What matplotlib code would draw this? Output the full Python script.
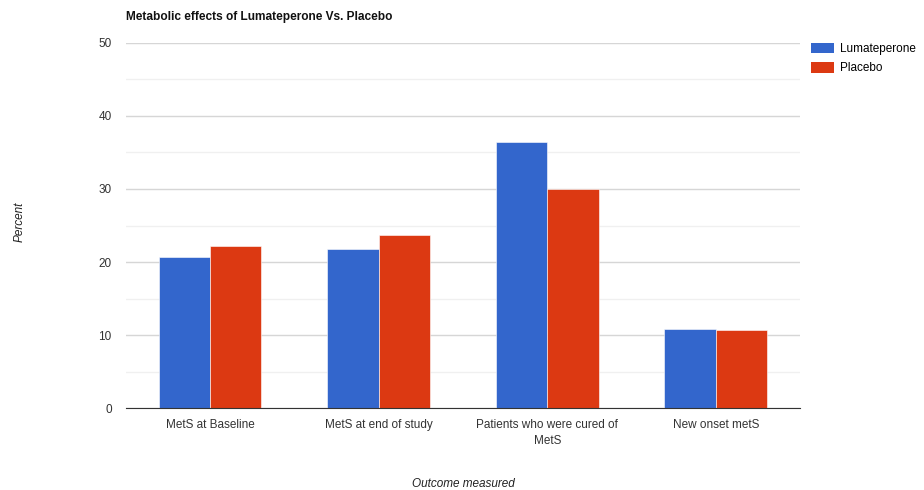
import matplotlib
matplotlib.use('Agg')
import matplotlib.pyplot as plt
import numpy as np
from matplotlib.patches import Patch

plt.rcParams['font.family'] = ['Liberation Sans', 'DejaVu Sans']

categories = ['MetS at Baseline', 'MetS at end of study',
              'Patients who were cured of\nMetS', 'New onset metS']
lumateperone = [20.7, 21.8, 36.4, 10.8]
placebo = [22.2, 23.7, 30.0, 10.7]
series_names = ['Lumateperone', 'Placebo']
colors = ['#3366CC', '#DC3912']

fig = plt.figure(figsize=(9.24, 4.9), dpi=100)
ax = fig.add_axes([0.136, 0.1667, 0.73, 0.746])

x = np.arange(len(categories))
w = 0.305
ax.bar(x - w / 2, lumateperone, w, color=colors[0], edgecolor='white', linewidth=0.4, zorder=3)
ax.bar(x + w / 2, placebo, w, color=colors[1], edgecolor='white', linewidth=0.4, zorder=3)

ax.set_xlim(-0.5, len(categories) - 0.5)
ax.set_ylim(0, 50)
ax.set_yticks(range(0, 51, 10))
ax.set_yticks(range(5, 50, 10), minor=True)
ax.grid(axis='y', which='major', color='#d6d6d6', linewidth=1, zorder=0)
ax.grid(axis='y', which='minor', color='#f0f0f0', linewidth=1, zorder=0)
for s in ['top', 'right', 'left']:
    ax.spines[s].set_visible(False)
ax.spines['bottom'].set_color('#333333')
ax.spines['bottom'].set_zorder(4)
ax.tick_params(axis='both', which='both', length=0, labelsize=8.5, colors='#333333')
ax.tick_params(axis='y', pad=10)
ax.tick_params(axis='x', pad=8)
ax.set_xticks(x)
ax.set_xticklabels(categories, linespacing=1.4)

fig.text(126 / 924, 1 - 17 / 490, 'Metabolic effects of Lumateperone Vs. Placebo',
         fontsize=8.6, fontweight='bold', va='center', ha='left', color='#111111')
fig.text(20 / 924, 1 - 222 / 490, 'Percent', rotation=90, style='italic',
         fontsize=8.5, va='center', ha='center', color='#222222')
fig.text(463 / 924, 1 - 484 / 490, 'Outcome measured', style='italic',
         fontsize=8.5, va='center', ha='center', color='#222222')

handles = [Patch(facecolor=c, label=n) for c, n in zip(colors, series_names)]
fig.legend(handles=handles, loc='upper left', bbox_to_anchor=(806 / 924, 1 - 38 / 490),
           frameon=False, fontsize=8.5, handlelength=2.0, handleheight=1.0,
           handletextpad=0.5, labelspacing=0.6, borderaxespad=0)

fig.savefig('out.png', dpi=100)
